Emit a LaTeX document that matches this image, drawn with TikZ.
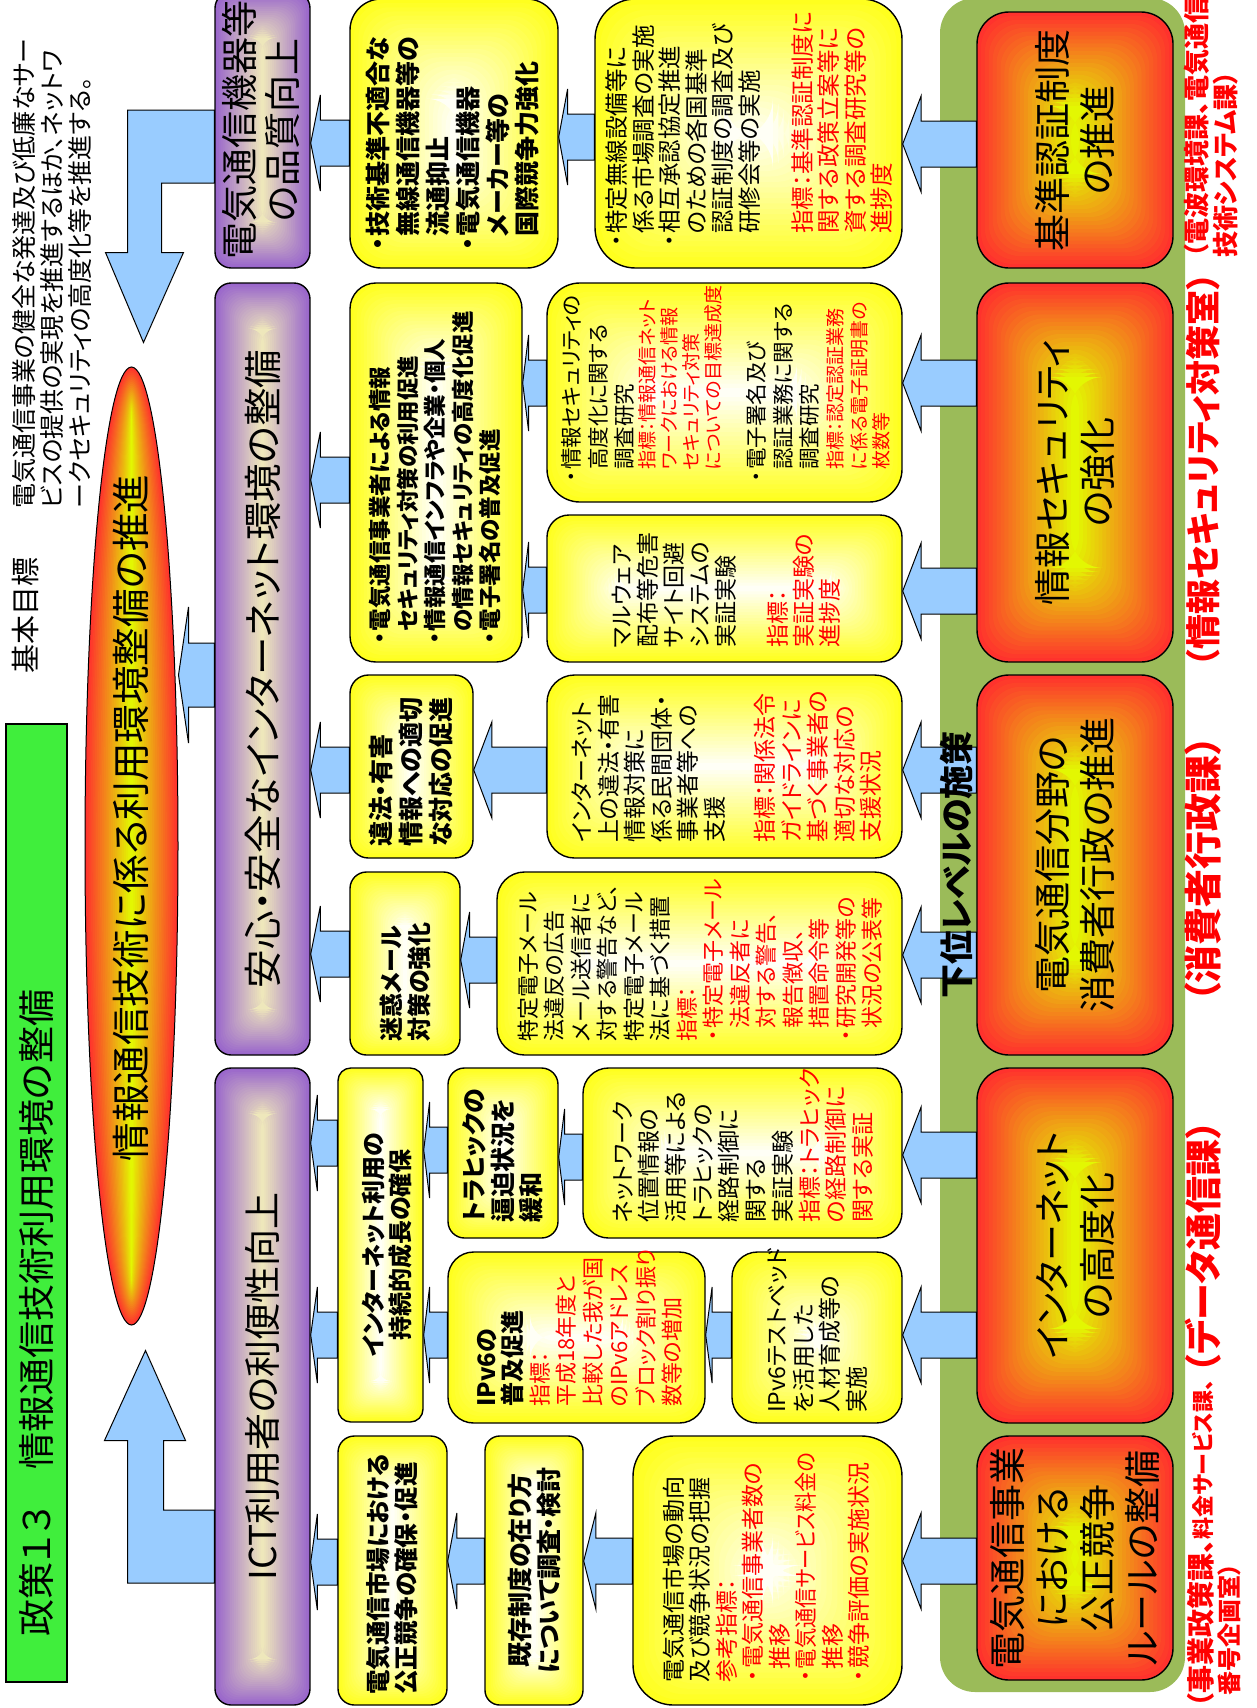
\documentclass[tikz,border=0pt]{standalone}
\usepackage{graphicx}
\usepackage{fontspec}
\setmainfont{Noto Sans CJK JP}[RawFeature={+palt}]
\usetikzlibrary{positioning,calc,shapes.geometric}

\definecolor{purp}{RGB}{153,102,204}
\definecolor{cream}{RGB}{242,236,186}
\definecolor{redo}{RGB}{255,50,45}
\definecolor{redi}{RGB}{226,255,0}
\definecolor{yel}{RGB}{255,255,30}
\definecolor{arrblue}{RGB}{153,204,255}
\definecolor{ttlgreen}{RGB}{64,238,60}
\definecolor{bggreen}{RGB}{155,187,89}
\definecolor{txtred}{RGB}{255,0,0}

\newcommand\fsz[2]{\fontsize{#1}{#2}\selectfont}
\newcommand\bul{\makebox[.6em]{・}}
\newcommand\ind{\hspace*{.6em}}
\newcommand\rd[1]{\textcolor{txtred}{#1}}
\newcommand\rs[1]{\textcolor{txtred}{\fsz{19}{22}#1}}

\tikzset{
  grad/.style 2 args={path picture={
    \foreach \k in {0,...,24}{
      \pgfmathtruncatemacro\pc{4*\k}
      \fill[#2!\pc!#1] let \p1=(path picture bounding box.south west),
        \p2=(path picture bounding box.north east),
        \n1={min(\x2-\x1,\y2-\y1)*\k/50} in
        (\x1+\n1,\y1+\n1) rectangle (\x2-\n1,\y2-\n1);
    }}},
  egrad/.style 2 args={path picture={
    \foreach \k in {0,...,24}{
      \pgfmathtruncatemacro\pc{4*\k}
      \fill[#2!\pc!#1] let \p1=(path picture bounding box.south west),
        \p2=(path picture bounding box.north east),
        \n1={(\x2-\x1)/2}, \n2={(\y2-\y1)/2},
        \n3={min(\n1,\n2)*\k/25} in
        (path picture bounding box.center) ellipse ({\n1-\n3} and {\n2-\n3});
    }}},
  pbox/.style={draw, line width=1.4pt, inner sep=0pt, grad={purp}{cream}},
  ybox/.style={draw, line width=1.4pt, inner sep=0pt, grad={yel}{white}},
  rbox/.style={draw, line width=1.4pt, inner sep=0pt, grad={redo}{redi}},
  barrow/.style={draw, fill=arrblue, line width=1pt},
  lbl/.style={rotate=90, inner sep=0pt, align=left, anchor=west},
  clbl/.style={rotate=90, inner sep=0pt, align=center},
}

\begin{document}
\begin{tikzpicture}[x=1pt,y=1pt]
\useasboundingbox (0,0) rectangle (1256,-1708);
\clip (0,0) rectangle (1256,-1708);

% lower level measures
\fill[bggreen, rounded corners=35] (940,2) rectangle (1185,-1692);

\node[draw, line width=1.4pt, fill=ttlgreen, inner sep=0pt, minimum width=61, minimum height=958] (ttl) at (36.5,-1203) {};

\foreach \nm/\xa/\ya/\xb/\yb in {pq/215/-8/310/268, ps/215/283/310/1055, pi/215/1068/310/1705}{
  \node[pbox, minimum width=\xb-\xa, minimum height=\yb-\ya, rounded corners={0.17*min(\xb-\xa,\yb-\ya)}] (\nm) at ({(\xa+\xb)/2},{-(\ya+\yb)/2}) {};
}
\foreach \nm/\xa/\ya/\xb/\yb in {ya/350/-1/558/268, yb/595/-1/902/268, yc/350/283/522/662, yd/547/283/902/502,
  ye/547/515/902/662, yf/350/675/473/858, yg/547/675/902/858, yh/350/872/460/1055, yi/497/872/902/1055,
  yj/338/1068/423/1422, yk/448/1068/558/1238, yl/583/1068/902/1238, ym/448/1252/705/1423, yn/732/1252/902/1423,
  yo/338/1436/447/1705, yp/485/1436/583/1705, yq/633/1436/902/1705}{
  \node[ybox, minimum width=\xb-\xa, minimum height=\yb-\ya, rounded corners={0.15*min(\xb-\xa,\yb-\ya)}] (\nm) at ({(\xa+\xb)/2},{-(\ya+\yb)/2}) {};
}
\foreach \nm/\xa/\ya/\xb/\yb in {r1/977/12/1173/268, r2/977/283/1173/662, r3/977/675/1173/1055, r4/977/1068/1173/1423, r5/977/1436/1173/1680}{
  \node[rbox, minimum width=\xb-\xa, minimum height=\yb-\ya, rounded corners=32] (\nm) at ({(\xa+\xb)/2},{-(\ya+\yb)/2}) {};
}

\node[draw, line width=1pt, ellipse, inner sep=0pt, minimum width=93, minimum height=958, egrad={redo}{redi}] (ell) at (131.5,-846) {};

% block arrows
\foreach \fa/\fb/\fy in {ya/pq/143, yb/ya/137, r1/yb/144, yc/ps/480, yd/yc/383, ye/yc/590, r2/yd/383, r2/ye/591,
  yf/ps/770, yg/yf/770, r3/yg/770, yh/ps/954, yi/yh/960, r3/yi/955, yj/pi/1143, yj/pi/1335, yk/yj/1150,
  ym/yj/1335, yl/yk/1157, yn/ym/1335, r4/yl/1155, r4/yn/1335, yo/pi/1562, yp/yo/1561, yq/yp/1561, r5/yq/1561}{
  \draw[barrow] let \p1=(\fa.west), \p2=(\fb.east), \n1={(\x1-\x2)/4} in
    (\x1,-\fy+23) -- (\x2+\n1,-\fy+23) -- (\x2+\n1,-\fy+48) -- (\x2,-\fy)
    -- (\x2+\n1,-\fy-48) -- (\x2+\n1,-\fy-23) -- (\x1,-\fy-23) -- cycle;
}
\draw[barrow] let \p1=(ps.west), \p2=(ell.east) in
  (\x1,-643) -- (\x2+10,-643) -- (\x2+10,-607) -- (\x2,-675) -- (\x2+10,-743) -- (\x2+10,-707) -- (\x1,-707) -- cycle;
\draw[barrow] let \p1=(pq.west), \p2=(ell.north) in
  (\x1,-110) -- (\x2-4,-110) -- (\x2-4,\y2+114) -- (\x2-26,\y2+114) -- (\x2+12,\y2+24)
  -- (\x2+52,\y2+114) -- (\x2+30,\y2+114) -- (\x2+30,-183) -- (\x1,-183) -- cycle;
\draw[barrow] let \p1=(pi.west), \p2=(ell.south) in
  (\x1,-1510) -- (\x2+32,-1510) -- (\x2+32,\y2-115) -- (\x2+54,\y2-115) -- (\x2+14,\y2-25)
  -- (\x2-27,\y2-115) -- (\x2-4,\y2-115) -- (\x2-4,-1583) -- (\x1,-1583) -- cycle;

% texts
\node[lbl, font=\fsz{37}{44}] (ttltx) at (36,-1637) {政策１３　情報通信技術利用環境の整備};
\node[clbl, font=\fsz{29}{32}] (goal) at (25,-615) {基本目標};
\node[lbl, font=\fsz{25}{28}] (desc) at (52,-509) {電気通信事業の健全な発達及び低廉なサー\\ビスの提供の実現を推進するほか、ネットワ\\ークセキュリティの高度化等を推進する。};
\node[clbl, font=\fsz{38.5}{44}] (elltx) at (131,-818) {情報通信技術に係る利用環境整備の推進};

\node[clbl, font=\fsz{37}{43}] (pqtx) at (261,-130) {電気通信機器等\\の品質向上};
\node[clbl, font=\fsz{38.5}{43}] (pstx) at (ps.center) {安心・安全なインターネット環境の整備};
\node[clbl, font=\fsz{37}{43}] (pitx) at (pi.center) {ICT利用者の利便性向上};

\node[clbl, font=\fsz{37}{45}] (r1tx) at (r1.center) {基準認証制度\\の推進};
\node[clbl, font=\fsz{37}{45}] (r2tx) at (r2.center) {情報セキュリティ\\の強化};
\node[clbl, font=\fsz{37}{45}] (r3tx) at (r3.center) {電気通信分野の\\消費者行政の推進};
\node[clbl, font=\fsz{37}{45}] (r4tx) at (r4.center) {インターネット\\の高度化};
\node[clbl, font=\fsz{37}{45}] (r5tx) at (r5.center) {電気通信事業\\における\\公正競争\\ルールの整備};

\node[lbl, font={\bfseries\fsz{25}{29.8}}] (yatx) at (453,-252) {\bul 技術基準不適合な\\\ind 無線通信機器等の\\\ind 流通抑止\\\bul 電気通信機器\\\ind メーカー等の\\\ind 国際競争力強化};
\node[lbl, font=\fsz{23.5}{26.5}] (ybtx) at (749.5,-248) {\bul 特定無線設備等に\\\ind 係る市場調査の実施\\\bul 相互承認協定推進\\\ind のための各国基準\\\ind 認証制度の調査及び\\\ind 研修会等の実施\\[26.5pt]\ind\rd{指標：基準認証制度に}\\\ind\rd{関する政策立案等に}\\\ind\rd{資する調査研究等の}\\\ind\rd{進捗度}};
\node[lbl, font={\bfseries\fsz{22.5}{27.5}}] (yctx) at (435,-645) {\bul 電気通信事業者による情報\\\ind セキュリティ対策の利用促進\\\bul 情報通信インフラや企業・個人\\\ind の情報セキュリティの高度化促進\\\bul 電子署名の普及促進};
\node[lbl, font=\fsz{21.5}{26.5}] (ydtx) at (726,-483) {\bul 情報セキュリティの\\\ind 高度化に関する\\\ind 調査研究\\[-5pt]\ind\rs{指標：情報通信ネット}\\[-4.5pt]\ind\rs{ワークにおける情報}\\[-4.5pt]\ind\rs{セキュリティ対策}\\[-4.5pt]\ind\rs{についての目標達成度}\\[18pt]\bul 電子署名及び\\\ind 認証業務に関する\\\ind 調査研究\\[-2pt]\ind\rs{指標：認定認証業務}\\[-2.5pt]\ind\rs{に係る電子証明書の}\\[-4pt]\ind\rs{枚数等}};
\node[lbl, font=\fsz{23}{26}] (yetx) at (726,-648) {マルウェア\\配布等危害\\サイト回避\\システムの\\実証実験\\[26pt]\rd{指標：}\\\rd{実証実験の}\\\rd{進捗度}};
\node[lbl, font={\bfseries\fsz{25}{30}}] (yftx) at (411,-847) {違法・有害\\情報への適切\\な対応の促進};
\node[lbl, font=\fsz{23}{26.5}] (ygtx) at (727,-843) {インターネット\\上の違法・有害\\情報対策に\\係る民間団体・\\事業者等への\\支援\\[24pt]\rd{指標：関係法令}\\\rd{ガイドラインに}\\\rd{基づく事業者の}\\\rd{適切な対応の}\\\rd{支援状況}};
\node[lbl, font={\bfseries\fsz{24}{28}}] (yhtx) at (405,-1042) {迷惑メール\\対策の強化};
\node[lbl, font=\fsz{22}{26.5}] (yitx) at (700,-1042) {特定電子メール\\法違反の広告\\メール送信者に\\対する警告など、\\特定電子メール\\法に基づく措置\\\rd{指標：}\\\rd{\bul 特定電子メール}\\\ind\rd{法違反者に}\\\ind\rd{対する警告、}\\\ind\rd{報告徴収、}\\\ind\rd{措置命令等}\\\rd{\bul 研究開発等の}\\\ind\rd{状況の公表等}};
\node[clbl, font={\bfseries\fsz{24}{27}}] (yjtx) at (387,-1245) {インターネット利用の\\持続的成長の確保};
\node[lbl, font={\bfseries\fsz{25}{28.5}}] (yktx) at (503,-1223) {トラヒックの\\逼迫状況を\\緩和};
\node[lbl, font=\fsz{23}{26.7}] (yltx) at (743,-1223) {ネットワーク\\位置情報の\\活用等による\\トラヒックの\\経路制御に\\関する\\実証実験\\\rd{指標：トラヒック}\\\rd{の経路制御に}\\\rd{関する実証}};
\node[lbl, font=\fsz{22}{26.5}] (ymtx) at (580,-1407) {\textbf{\fsz{24}{26.5}IPv6の}\\\textbf{\fsz{24}{26.5}普及促進}\\\rd{指標：}\\\rd{平成18年度と}\\\rd{比較した我が国}\\\rd{のIPv6アドレス}\\\rd{ブロック割り振り}\\\rd{数等の増加}};
\node[lbl, font=\fsz{23}{26.5}] (yntx) at (817.5,-1413) {IPv6テストベッド\\を活用した\\人材育成等の\\実施};
\node[lbl, font={\bfseries\fsz{24.5}{28}}] (yotx) at (392.5,-1695) {電気通信市場における\\公正競争の確保・促進};
\node[clbl, font={\bfseries\fsz{25}{29}}] (yptx) at (yp.center) {既存制度の在り方\\について調査・検討};
\node[lbl, font=\fsz{23}{26.5}] (yqtx) at (766,-1683) {電気通信市場の動向\\及び競争状況の把握\\\rd{参考指標：}\\\rd{\bul 電気通信事業者数の}\\\ind\rd{推移}\\\rd{\bul\scalebox{.88}[1]{電気通信サービス料金の}}\\\ind\rd{推移}\\\rd{\bul 競争評価の実施状況}};

\node[clbl, font={\bfseries\fsz{34}{38}}] (sub) at (956,-865) {下位レベルの施策};

\node[lbl, font={\bfseries\fsz{26}{29}}, text=txtred] (dep1) at (1211,-258) {（電波環境課、電気通信\\技術システム課）};
\node[clbl, font={\bfseries\fsz{35}{40}}, text=txtred] (dep2) at (1203,-470) {（情報セキュリティ対策室）};
\node[clbl, font={\bfseries\fsz{38}{42}}, text=txtred] (dep3) at (1203,-869) {（消費者行政課）};
\node[clbl, font={\bfseries\fsz{37}{42}}, text=txtred] (dep4) at (1203,-1247) {（データ通信課）};
\node[lbl, font={\bfseries\fsz{24}{27}}, text=txtred] (dep5) at (1214,-1708) {{\fsz{28}{27}（事業政策課、}{\fsz{22}{27}料金サービス課、}\\\hspace*{.5em}番号企画室）};
\end{tikzpicture}
\end{document}
